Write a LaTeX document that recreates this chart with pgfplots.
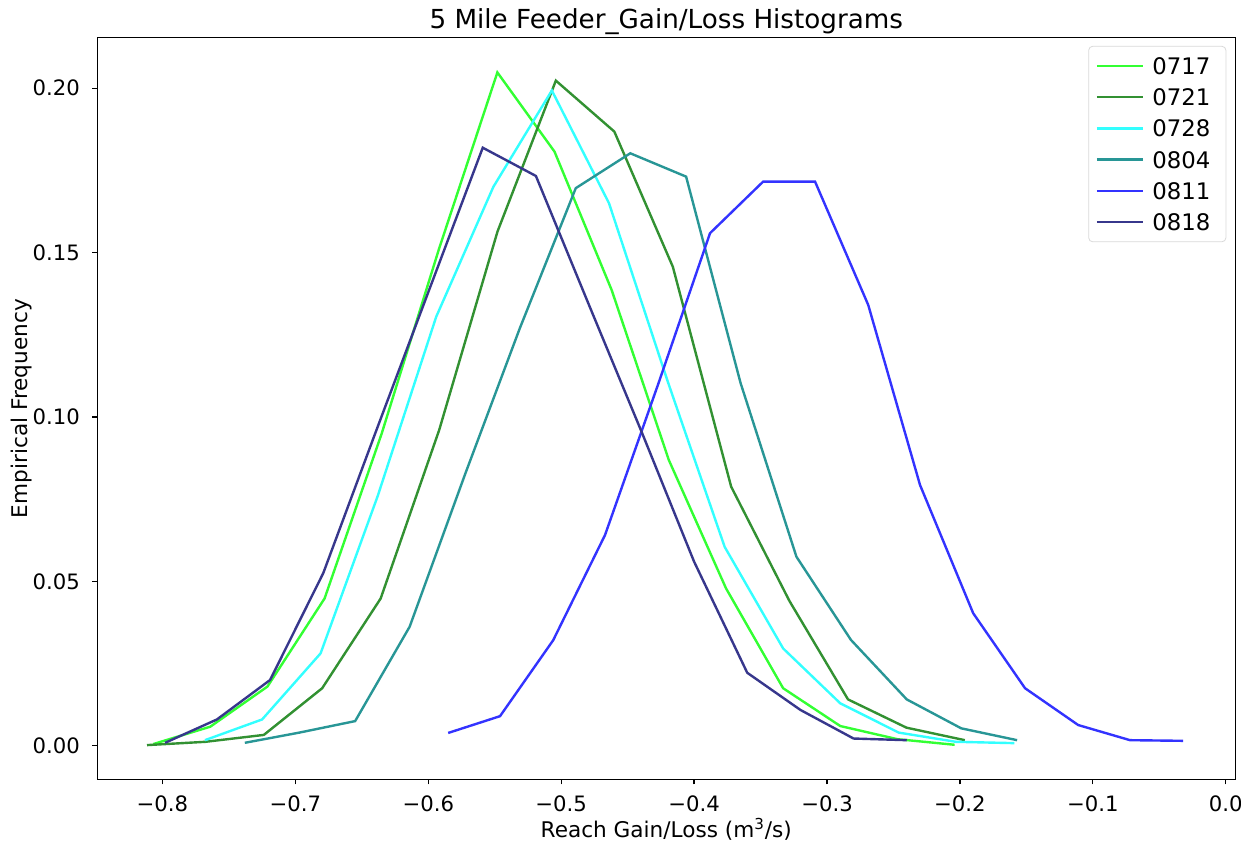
\documentclass[border=0pt]{standalone}
\usepackage{fontspec}
\setmainfont{DejaVu Sans}
\usepackage{pgfplots}
\usepackage{pgfplotstable}
\pgfplotsset{compat=1.18}

\definecolor{c0717}{RGB}{51,255,51}
\definecolor{c0721}{RGB}{50,145,50}
\definecolor{c0728}{RGB}{51,255,255}
\definecolor{c0804}{RGB}{40,150,150}
\definecolor{c0811}{RGB}{51,51,255}
\definecolor{c0818}{RGB}{55,55,140}

\pgfplotstableread{
x y
-0.807 0.0005
-0.764 0.0058
-0.721 0.0180
-0.678 0.0448
-0.635 0.0950
-0.592 0.1510
-0.548 0.2048
-0.505 0.1807
-0.462 0.1386
-0.419 0.0869
-0.376 0.0479
-0.333 0.0175
-0.290 0.0060
-0.247 0.0020
-0.204 0.0003
}\dA

\pgfplotstableread{
x y
-0.8116 0.0002
-0.7677 0.0012
-0.7237 0.0033
-0.6798 0.0175
-0.6358 0.0448
-0.5918 0.0960
-0.5479 0.1564
-0.5040 0.2023
-0.4600 0.1868
-0.4160 0.1457
-0.3721 0.0788
-0.3282 0.0440
-0.2842 0.0141
-0.2402 0.0055
-0.1963 0.0017
}\dB

\pgfplotstableread{
x y
-0.768 0.0017
-0.725 0.0080
-0.681 0.0281
-0.638 0.0760
-0.594 0.1305
-0.551 0.1700
-0.507 0.1993
-0.464 0.1650
-0.420 0.1110
-0.377 0.0605
-0.333 0.0296
-0.290 0.0129
-0.246 0.0040
-0.203 0.0012
-0.159 0.0008
}\dC

\pgfplotstableread{
x y
-0.738 0.0009
-0.697 0.0040
-0.655 0.0075
-0.614 0.0362
-0.572 0.0829
-0.531 0.1271
-0.489 0.1696
-0.448 0.1802
-0.406 0.1731
-0.365 0.1103
-0.323 0.0575
-0.282 0.0322
-0.240 0.0141
-0.199 0.0053
-0.157 0.0017
}\dD

\pgfplotstableread{
x y
-0.585 0.0039
-0.546 0.0090
-0.506 0.0321
-0.467 0.0641
-0.427 0.1100
-0.388 0.1559
-0.348 0.1716
-0.309 0.1716
-0.269 0.1341
-0.230 0.0793
-0.190 0.0403
-0.151 0.0175
-0.111 0.0063
-0.072 0.0017
-0.032 0.0015
}\dE

\pgfplotstableread{
x y
-0.798 0.0009
-0.759 0.0080
-0.719 0.0200
-0.679 0.0525
-0.639 0.0960
-0.599 0.1390
-0.559 0.1819
-0.519 0.1733
-0.479 0.1340
-0.439 0.0950
-0.400 0.0560
-0.360 0.0222
-0.320 0.0109
-0.280 0.0022
-0.240 0.0017
}\dF

\begin{document}
\begin{tikzpicture}
\useasboundingbox (-48.65pt,-32.85pt) rectangle (571.85pt,389.65pt);
\begin{axis}[
  at={(0,0)}, anchor=south west,
  scale only axis,
  width=569pt, height=370.7pt,
  xmin=-0.849, xmax=0.0072,
  ymin=-0.0102, ymax=0.2153,
  axis line style={line width=0.6pt},
  tick align=outside,
  tick style={line width=0.6pt, black},
  major tick length=2.5pt,
  xtick={-0.8,-0.7,-0.6,-0.5,-0.4,-0.3,-0.2,-0.1,0},
  xticklabels={−0.8,−0.7,−0.6,−0.5,−0.4,−0.3,−0.2,−0.1,0.0},
  ytick={0,0.05,0.1,0.15,0.2},
  yticklabels={0.00,0.05,0.10,0.15,0.20},
  xtick pos=bottom, ytick pos=left,
  ticklabel style={font=\fontsize{10.6pt}{12pt}\selectfont},
  xticklabel style={anchor=base, inner sep=0pt, yshift=-13.5pt},
  yticklabel style={anchor=east, inner sep=0pt, xshift=-6pt},
  title={5 Mile Feeder\_Gain/Loss Histograms},
  title style={at={(axis description cs:0.5,1)}, anchor=base, inner sep=0pt, yshift=-1.25pt, font=\fontsize{13.1pt}{15pt}\selectfont},
  xlabel={Reach Gain/Loss (m\textsuperscript{3}/s)},
  xlabel style={at={(axis description cs:0.5,0)}, anchor=base, inner sep=0pt, yshift=-29pt, font=\fontsize{10.8pt}{12pt}\selectfont},
  ylabel={Empirical Frequency},
  ylabel style={at={(axis description cs:0,0.5)}, anchor=center, yshift=38pt, font=\fontsize{10.8pt}{12pt}\selectfont},
  legend cell align=left,
  legend image code/.code={\draw[#1] (0pt,0pt) -- (23pt,0pt);},
  legend style={at={(axis description cs:1,1)}, anchor=north east, xshift=-4.5pt, yshift=-4pt,
    draw=black!15, rounded corners=2pt, inner xsep=3.5pt, inner ysep=5.5pt,
    font=\fontsize{11.4pt}{13pt}\selectfont, row sep=7.15pt,
    nodes={inner xsep=4.2pt, inner ysep=0pt, text height=8.5pt, text depth=0pt}},
  every axis plot/.append style={line width=1.2pt},
]
\addplot[c0717] table[x=x,y=y]{\dA};
\addlegendentry{0717}
\addplot[c0721] table[x=x,y=y]{\dB};
\addlegendentry{0721}
\addplot[c0728] table[x=x,y=y]{\dC};
\addlegendentry{0728}
\addplot[c0804] table[x=x,y=y]{\dD};
\addlegendentry{0804}
\addplot[c0811] table[x=x,y=y]{\dE};
\addlegendentry{0811}
\addplot[c0818] table[x=x,y=y]{\dF};
\addlegendentry{0818}
\end{axis}
\end{tikzpicture}
\end{document}
